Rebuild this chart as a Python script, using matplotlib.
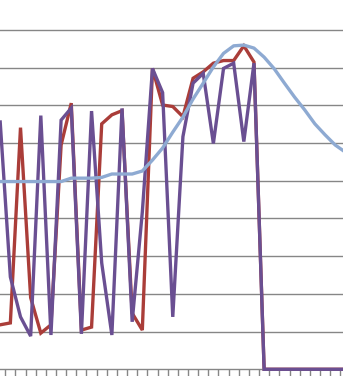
import numpy as np
import matplotlib
matplotlib.use("Agg")
import matplotlib.pyplot as plt

# values, one per category (the chart is cropped at both sides)
red_vals = [1.18, 1.23, 6.41, 1.90, 0.96, 1.18, 5.95, 7.06, 1.04, 1.12,
            6.51, 6.75, 6.86, 1.49, 1.04, 7.98, 7.01, 6.97, 6.70, 7.72,
            7.89, 8.12, 8.19, 8.19, 8.58, 8.15, 0, 0, 0, 0,
            0, 0, 0, 0, 0]
purple_vals = [6.56, 2.45, 1.39, 0.88, 6.73, 0.91, 6.61, 6.93, 0.94, 6.85,
               2.82, 0.91, 6.92, 1.26, 4.17, 7.98, 7.34, 1.39, 6.17, 7.59,
               7.85, 5.99, 7.98, 8.12, 6.04, 8.12, 0, 0, 0, 0,
               0, 0, 0, 0, 0]
blue_vals = [4.98, 4.98, 4.98, 4.98, 4.98, 4.98, 4.98, 5.07, 5.07, 5.07,
             5.09, 5.18, 5.18, 5.18, 5.26, 5.55, 5.87, 6.29, 6.69, 7.17,
             7.59, 8.02, 8.38, 8.58, 8.60, 8.52, 8.28, 7.97, 7.59, 7.22,
             6.88, 6.51, 6.22, 5.95, 5.76]

x = np.arange(len(blue_vals))

fig = plt.figure(figsize=(3.43, 3.76), dpi=100)
ax = fig.add_axes([0, 0, 1, 1])

# horizontal gridlines like the Excel chart
ax.set_yticks(range(1, 10))
ax.yaxis.grid(True, color="#868686", lw=1.0)
ax.set_axisbelow(True)
ax.tick_params(axis="y", left=False, labelleft=False)

ax.plot(x, red_vals, color="#AA3D39", lw=2.4, zorder=2, solid_joinstyle="miter")
ax.plot(x, purple_vals, color="#6A4F92", lw=2.4, zorder=3, solid_joinstyle="miter")
ax.plot(x, blue_vals, color="#8EAAD2", lw=2.4, zorder=4)

# category axis at zero, tick marks between points pointing down
ticks = np.arange(-0.5, len(x) + 0.5, 1.0)
ax.set_xticks(ticks)
ax.tick_params(axis="x", direction="out", length=5, width=1, color="#868686",
               labelbottom=False, pad=0)
ax.spines["bottom"].set_position(("data", 0))
ax.spines["bottom"].set_color("#868686")
ax.spines["bottom"].set_linewidth(1.0)
for side in ["top", "left", "right"]:
    ax.spines[side].set_visible(False)

ax.set_xlim(-0.02, 33.77)
ax.set_ylim(-0.178, 9.796)

fig.savefig("out.png", dpi=100)
